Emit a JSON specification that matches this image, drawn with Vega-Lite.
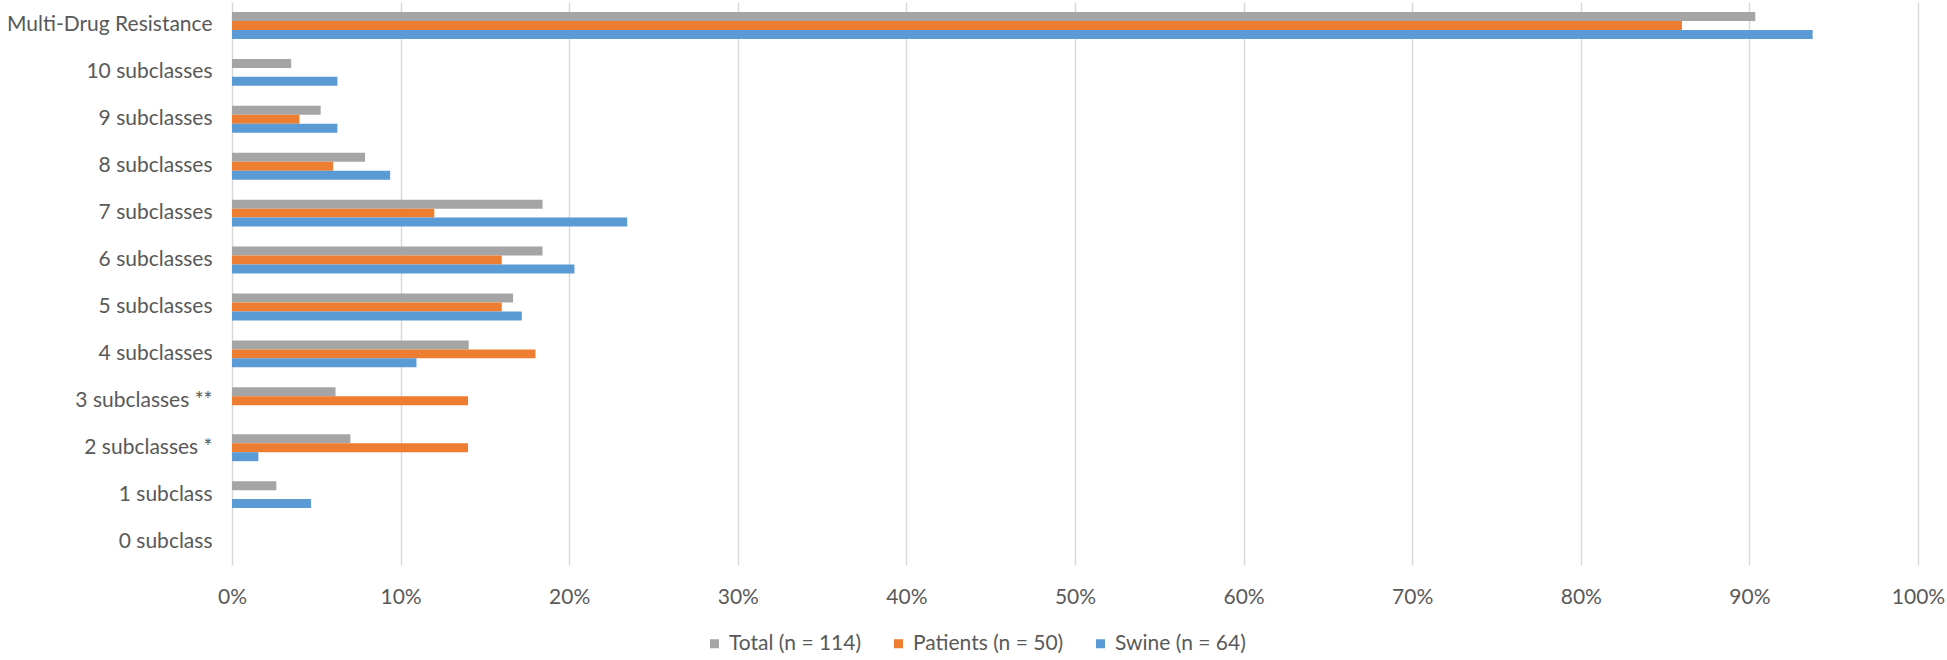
{
  "$schema": "https://vega.github.io/schema/vega-lite/v6.json",
  "autosize": "none",
  "width": 1686,
  "height": 563,
  "padding": {"left": 232, "top": 2, "right": 29, "bottom": 95},
  "background": "white",
  "config": {
    "view": {"stroke": null},
    "font": "Lato",
    "axis": {"labelColor": "#595959", "labelFont": "Lato", "labelFontSize": 21},
    "legend": {"labelColor": "#595959", "labelFont": "Lato", "labelFontSize": 21}
  },
  "data": {
    "values": [
      {"category": "Multi-Drug Resistance", "group": "Total (n = 114)", "value": 0.9035},
      {"category": "Multi-Drug Resistance", "group": "Patients (n = 50)", "value": 0.86},
      {"category": "Multi-Drug Resistance", "group": "Swine (n = 64)", "value": 0.9375},
      {"category": "10 subclasses", "group": "Total (n = 114)", "value": 0.0351},
      {"category": "10 subclasses", "group": "Patients (n = 50)", "value": 0},
      {"category": "10 subclasses", "group": "Swine (n = 64)", "value": 0.0625},
      {"category": "9 subclasses", "group": "Total (n = 114)", "value": 0.0526},
      {"category": "9 subclasses", "group": "Patients (n = 50)", "value": 0.04},
      {"category": "9 subclasses", "group": "Swine (n = 64)", "value": 0.0625},
      {"category": "8 subclasses", "group": "Total (n = 114)", "value": 0.0789},
      {"category": "8 subclasses", "group": "Patients (n = 50)", "value": 0.06},
      {"category": "8 subclasses", "group": "Swine (n = 64)", "value": 0.0938},
      {"category": "7 subclasses", "group": "Total (n = 114)", "value": 0.1842},
      {"category": "7 subclasses", "group": "Patients (n = 50)", "value": 0.12},
      {"category": "7 subclasses", "group": "Swine (n = 64)", "value": 0.2344},
      {"category": "6 subclasses", "group": "Total (n = 114)", "value": 0.1842},
      {"category": "6 subclasses", "group": "Patients (n = 50)", "value": 0.16},
      {"category": "6 subclasses", "group": "Swine (n = 64)", "value": 0.2031},
      {"category": "5 subclasses", "group": "Total (n = 114)", "value": 0.1667},
      {"category": "5 subclasses", "group": "Patients (n = 50)", "value": 0.16},
      {"category": "5 subclasses", "group": "Swine (n = 64)", "value": 0.1719},
      {"category": "4 subclasses", "group": "Total (n = 114)", "value": 0.1404},
      {"category": "4 subclasses", "group": "Patients (n = 50)", "value": 0.18},
      {"category": "4 subclasses", "group": "Swine (n = 64)", "value": 0.1094},
      {"category": "3 subclasses **", "group": "Total (n = 114)", "value": 0.0614},
      {"category": "3 subclasses **", "group": "Patients (n = 50)", "value": 0.14},
      {"category": "3 subclasses **", "group": "Swine (n = 64)", "value": 0},
      {"category": "2 subclasses *", "group": "Total (n = 114)", "value": 0.0702},
      {"category": "2 subclasses *", "group": "Patients (n = 50)", "value": 0.14},
      {"category": "2 subclasses *", "group": "Swine (n = 64)", "value": 0.0156},
      {"category": "1 subclass", "group": "Total (n = 114)", "value": 0.0263},
      {"category": "1 subclass", "group": "Patients (n = 50)", "value": 0},
      {"category": "1 subclass", "group": "Swine (n = 64)", "value": 0.0469},
      {"category": "0 subclass", "group": "Total (n = 114)", "value": 0},
      {"category": "0 subclass", "group": "Patients (n = 50)", "value": 0},
      {"category": "0 subclass", "group": "Swine (n = 64)", "value": 0}
    ]
  },
  "mark": {"type": "bar"},
  "encoding": {
    "y": {
      "field": "category",
      "type": "nominal",
      "sort": null,
      "scale": {"paddingInner": 0.425, "paddingOuter": 0.2125},
      "axis": {"title": null, "domain": false, "ticks": false, "grid": false, "labelPadding": 20, "labelLimit": 400}
    },
    "yOffset": {
      "field": "group",
      "type": "nominal",
      "sort": ["Total (n = 114)", "Patients (n = 50)", "Swine (n = 64)"],
      "scale": {"paddingInner": 0, "paddingOuter": 0}
    },
    "x": {
      "field": "value",
      "type": "quantitative",
      "scale": {"domain": [0, 1], "nice": false},
      "axis": {
        "title": null,
        "format": ".0%",
        "values": [0, 0.1, 0.2, 0.3, 0.4, 0.5, 0.6, 0.7, 0.8, 0.9, 1],
        "domain": false,
        "ticks": false,
        "grid": true,
        "gridColor": "#D9D9D9",
        "gridWidth": 1.5,
        "labelFlush": false,
        "labelPadding": 21
      }
    },
    "color": {
      "field": "group",
      "type": "nominal",
      "sort": ["Total (n = 114)", "Patients (n = 50)", "Swine (n = 64)"],
      "scale": {
        "domain": ["Total (n = 114)", "Patients (n = 50)", "Swine (n = 64)"],
        "range": ["#A5A5A5", "#ED7D31", "#5B9BD5"]
      },
      "legend": {
        "title": null,
        "orient": "none",
        "direction": "horizontal",
        "legendX": 472,
        "legendY": 631,
        "symbolType": "square",
        "symbolSize": 81,
        "symbolStrokeWidth": 0,
        "labelOffset": 4,
        "columnPadding": 26
      }
    }
  }
}
